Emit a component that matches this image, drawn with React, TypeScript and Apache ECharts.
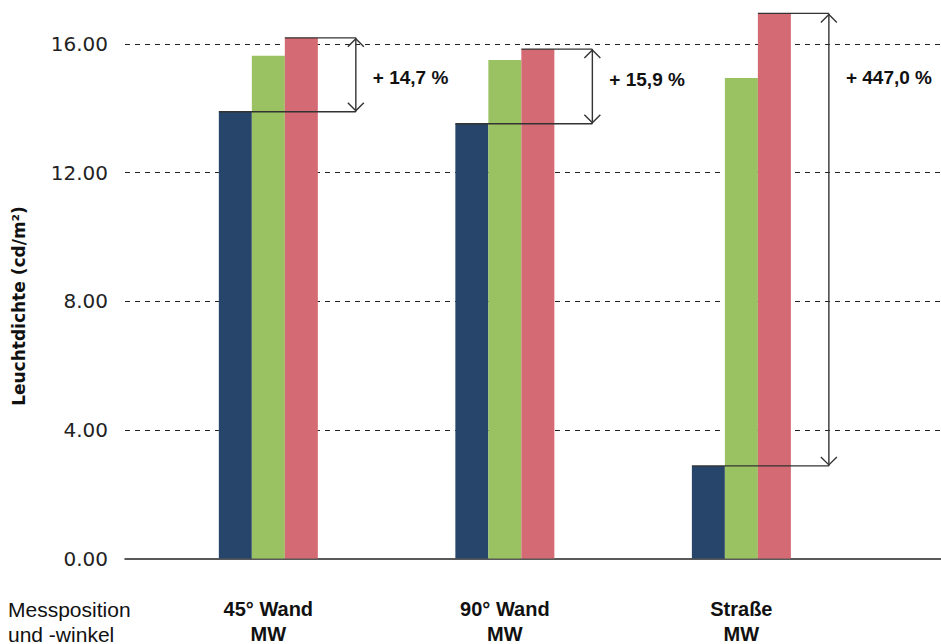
import React, { useEffect, useRef } from "react";
import * as echarts from "echarts";

// ---- data ----
const categories = ["45° Wand", "90° Wand", "Straße"];
const subLabel = "MW";
const seriesA = [13.89, 13.52, 2.88]; // navy
const seriesB = [15.63, 15.5, 14.94]; // green
const seriesC = [16.19, 15.84, 16.95]; // red
const percentLabels = ["+ 14,7 %", "+ 15,9 %", "+ 447,0 %"];
const percentLabelY = [14.97, 14.91, 14.97];
const yTickLabels = [0, 4, 8, 12, 16];
const yGridLines = [4, 8, 12, 16];
const categoryPositions = [1, 2, 3];

const COLORS = ["#27446B", "#9BC262", "#D46A73"];
const BAR_W = 33;

export default function App() {
  const ref = useRef<HTMLDivElement>(null);

  useEffect(() => {
    if (!ref.current) return;
    const chart = echarts.init(ref.current, null, { renderer: "svg" });

    const toPairs = (arr: number[]) => arr.map((v, i) => [categoryPositions[i], v]);

    const annotationData = categoryPositions.map((x, i) => [
      x,
      seriesA[i],
      seriesC[i],
      percentLabelY[i],
      i,
    ]);

    const lineColor = "#333";

    const option: any = {
      animation: false,
      backgroundColor: "#ffffff",
      grid: {
        left: 125,
        right: 0,
        top: 11.8,
        bottom: 85.5,
        containLabel: false,
        outerBoundsMode: "none",
      },
      xAxis: {
        type: "value",
        min: 0.394,
        max: 3.844,
        axisLine: { show: true, lineStyle: { color: "#222", width: 1.5 } },
        axisTick: { show: false },
        splitLine: { show: false },
        axisLabel: {
          customValues: categoryPositions,
          margin: 38,
          formatter: (v: number) => {
            const idx = categoryPositions.indexOf(Math.round(v));
            return idx >= 0 ? categories[idx] + "\n" + subLabel : "";
          },
          fontFamily: "Liberation Sans, Arial, sans-serif",
          fontWeight: "bold",
          fontSize: 20,
          lineHeight: 25,
          color: "#111",
        },
      },
      yAxis: {
        type: "value",
        min: 0,
        max: 17,
        axisLine: { show: false },
        axisTick: { show: false, customValues: yGridLines },
        axisLabel: {
          customValues: yTickLabels,
          margin: 17,
          formatter: (v: number) => v.toFixed(2),
          fontFamily: "DejaVu Sans, sans-serif",
          fontSize: 20,
          color: "#222",
        },
        splitLine: {
          show: true,
          lineStyle: { color: "#222", type: [5, 5], width: 1 },
        },
      },
      graphic: [
        {
          type: "text",
          x: 19,
          y: 306,
          rotation: Math.PI / 2,
          style: {
            text: "Leuchtdichte (cd/m²)",
            fontFamily: "DejaVu Sans, sans-serif",
            fontWeight: "bold",
            fontSize: 17,
            fill: "#111",
            align: "center",
            verticalAlign: "middle",
          },
        },
        {
          type: "text",
          x: 8,
          y: 596.5,
          style: {
            text: "Messposition\nund -winkel",
            fontFamily: "Liberation Sans, Arial, sans-serif",
            fontSize: 21,
            lineHeight: 25,
            fill: "#111",
            align: "left",
            verticalAlign: "top",
          },
        },
      ],
      series: [
        {
          type: "bar",
          data: toPairs(seriesA),
          barWidth: BAR_W,
          barGap: "0%",
          itemStyle: { color: COLORS[0] },
          silent: true,
        },
        {
          type: "bar",
          data: toPairs(seriesB),
          barWidth: BAR_W,
          barGap: "0%",
          itemStyle: { color: COLORS[1] },
          silent: true,
        },
        {
          type: "bar",
          data: toPairs(seriesC),
          barWidth: BAR_W,
          barGap: "0%",
          itemStyle: { color: COLORS[2] },
          silent: true,
        },
        {
          type: "custom",
          clip: false,
          z: 10,
          silent: true,
          data: annotationData,
          encode: { x: 0, y: 1 },
          renderItem: (params: any, api: any) => {
            const x = api.value(0);
            const low = api.value(1);
            const high = api.value(2);
            const ly = api.value(3);
            const idx = api.value(4);
            const cx = api.coord([x, 0])[0];
            const yLow = api.coord([x, low])[1];
            const yHigh = api.coord([x, high])[1];
            const yLab = api.coord([x, ly])[1];
            const leftLow = cx - 1.5 * BAR_W;
            const leftHigh = cx + 0.5 * BAR_W;
            const ax = cx + 87.5;
            const st = { stroke: lineColor, lineWidth: 1.4, fill: "none" };
            return {
              type: "group",
              children: [
                { type: "line", shape: { x1: leftLow, y1: yLow, x2: ax, y2: yLow }, style: st },
                { type: "line", shape: { x1: leftHigh, y1: yHigh, x2: ax, y2: yHigh }, style: st },
                { type: "line", shape: { x1: ax, y1: yHigh, x2: ax, y2: yLow }, style: st },
                {
                  type: "polyline",
                  shape: { points: [[ax - 8, yHigh + 9], [ax, yHigh + 1], [ax + 8, yHigh + 9]] },
                  style: st,
                },
                {
                  type: "polyline",
                  shape: { points: [[ax - 8, yLow - 9], [ax, yLow - 1], [ax + 8, yLow - 9]] },
                  style: st,
                },
                {
                  type: "text",
                  x: ax + 17,
                  y: yLab,
                  style: {
                    text: percentLabels[idx],
                    fontFamily: "Liberation Sans, Arial, sans-serif",
                    fontWeight: "bold",
                    fontSize: 19,
                    fill: "#111",
                    align: "left",
                    verticalAlign: "middle",
                  },
                },
              ],
            };
          },
        },
      ],
    };

    chart.setOption(option);
    return () => chart.dispose();
  }, []);

  return (
    <div
      ref={ref}
      style={{ position: "absolute", left: 0, top: 0, width: 941, height: 644 }}
    />
  );
}
